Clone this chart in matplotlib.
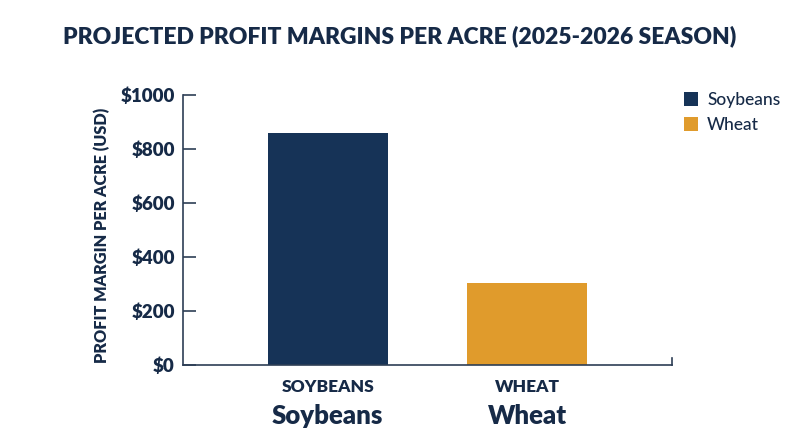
import matplotlib.pyplot as plt
import numpy as np

crops = ["Soybeans", "Wheat"]
tick_names = ["SOYBEANS", "WHEAT"]
margins = [858, 305]
bar_colours = ["#163357", "#e09b2c"]
y_ticks = [0, 200, 400, 600, 800, 1000]

navy = "#162a47"
heavy = 'heavy'
plt.rcParams['font.family'] = ['Lato', 'DejaVu Sans']

fig = plt.figure(figsize=(8, 4.47), dpi=100)
ax = fig.add_axes([0.229, 0.1834, 0.611, 0.6041])

x = np.arange(len(crops))
bars = ax.bar(x, margins, width=0.6, color=bar_colours, label=crops, zorder=2)

ax.set_xlim(-0.7236, 1.725)
ax.set_ylim(0, 1000)
ax.set_yticks(y_ticks)
ax.set_yticklabels(["$" + str(v) for v in y_ticks], fontsize=13.5, fontweight=heavy, color=navy)
ax.tick_params(axis='y', direction='in', length=9, width=1.2, color="#2d3e55", pad=6)
ax.set_xticks(x)
ax.set_xticklabels(tick_names, fontsize=12.5, fontweight=heavy, color=navy)
ax.tick_params(axis='x', direction='in', length=0, pad=10)

for s in ['top', 'right']:
    ax.spines[s].set_visible(False)
for s in ['left', 'bottom']:
    ax.spines[s].set_color("#2d3e55")
    ax.spines[s].set_linewidth(1.2)

# small stub at the right end of the x axis
ax.plot([1, 1], [0, 0.025], transform=ax.transAxes, color="#2d3e55", lw=1.2, clip_on=False)

for i, name in enumerate(crops):
    ax.text(x[i], -0.19, name, transform=ax.get_xaxis_transform(), ha='center', va='center',
            fontsize=18.5, fontweight=heavy, color=navy)

ax.set_ylabel("PROFIT MARGIN PER ACRE (USD)", fontsize=11.7, fontweight=heavy, color=navy)
ax.yaxis.set_label_coords(-0.15, 0.48)

fig.text(0.5, 0.918, "PROJECTED PROFIT MARGINS PER ACRE (2025-2026 SEASON)", ha='center', va='center',
         fontsize=16.5, fontweight=heavy, color=navy)

leg = fig.legend(handles=list(bars), labels=crops, loc='upper left', bbox_to_anchor=(0.835, 0.83),
                 frameon=False, fontsize=12.5, handlelength=0.85, handleheight=0.85, handletextpad=0.5,
                 labelspacing=0.55)
for t in leg.get_texts():
    t.set_color(navy)
    t.set_fontweight('medium')

fig.savefig("out.png", dpi=100)
